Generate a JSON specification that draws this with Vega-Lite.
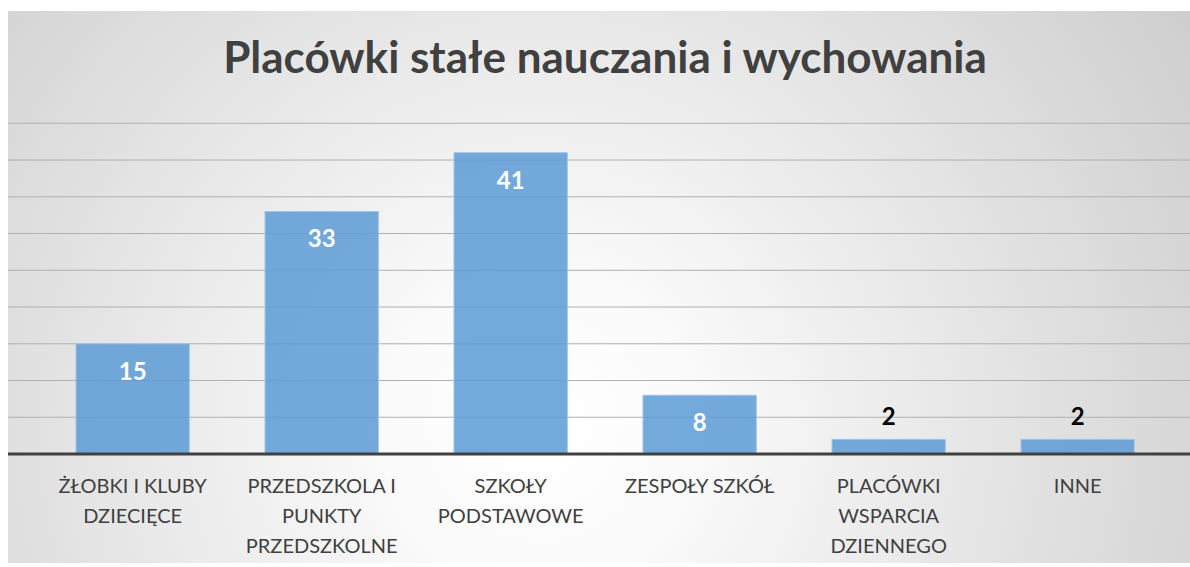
{
  "$schema": "https://vega.github.io/schema/vega-lite/v6.json",
  "width": 1182,
  "height": 552,
  "autosize": {"type": "none"},
  "padding": {"left": 8, "top": 11, "right": 0, "bottom": 4},
  "background": "#ffffff",
  "config": {
    "font": "Lato",
    "view": {"stroke": null, "fill": "#e6e6e6"}
  },
  "title": {
    "text": "Placówki stałe nauczania i wychowania",
    "font": "Lato",
    "fontSize": 44,
    "fontWeight": "bold",
    "color": "#404040",
    "anchor": "middle",
    "frame": "group",
    "baseline": "alphabetic",
    "offset": -106,
    "dx": 6
  },
  "data": {
    "values": [
      {"kategoria": "ŻŁOBKI I KLUBY DZIECIĘCE", "etykieta": "ŻŁOBKI I KLUBY\nDZIECIĘCE", "liczba": 15},
      {"kategoria": "PRZEDSZKOLA I PUNKTY PRZEDSZKOLNE", "etykieta": "PRZEDSZKOLA I\nPUNKTY\nPRZEDSZKOLNE", "liczba": 33},
      {"kategoria": "SZKOŁY PODSTAWOWE", "etykieta": "SZKOŁY\nPODSTAWOWE", "liczba": 41},
      {"kategoria": "ZESPOŁY SZKÓŁ", "etykieta": "ZESPOŁY SZKÓŁ", "liczba": 8},
      {"kategoria": "PLACÓWKI WSPARCIA DZIENNEGO", "etykieta": "PLACÓWKI\nWSPARCIA\nDZIENNEGO", "liczba": 2},
      {"kategoria": "INNE", "etykieta": "INNE", "liczba": 2}
    ]
  },
  "layer": [
    {
      "data": {"values": [{"tlo": 1}]},
      "mark": {
        "type": "rect",
        "fill": {
          "gradient": "radial",
          "x1": 0.45, "y1": 0.62, "r1": 0,
          "x2": 0.45, "y2": 0.62, "r2": 0.8,
          "stops": [
            {"offset": 0, "color": "#ffffff"},
            {"offset": 0.15, "color": "#fbfbfb"},
            {"offset": 1, "color": "#c2c2c2"}
          ]
        }
      },
      "encoding": {}
    },
    {
      "data": {"values": [
        {"poziom": 5}, {"poziom": 10}, {"poziom": 15}, {"poziom": 20}, {"poziom": 25},
        {"poziom": 30}, {"poziom": 35}, {"poziom": 40}, {"poziom": 45}
      ]},
      "mark": {"type": "rule", "stroke": "#b0b0b0", "strokeWidth": 1},
      "encoding": {
        "y": {"field": "poziom", "type": "quantitative", "axis": null}
      }
    },
    {
      "mark": {"type": "bar", "fill": "#5b9bd5", "fillOpacity": 0.85, "stroke": "#a4c6e8", "strokeWidth": 1},
      "encoding": {
        "x": {
          "field": "kategoria",
          "type": "nominal",
          "sort": null,
          "scale": {"paddingInner": 0.4, "paddingOuter": 0.327, "align": 0.55, "round": false},
          "axis": null
        },
        "y": {
          "field": "liczba",
          "type": "quantitative",
          "scale": {"domain": [-14.83, 60.28], "nice": false, "zero": false},
          "axis": null
        }
      }
    },
    {
      "data": {"values": [{"poziom": 0}]},
      "mark": {"type": "rule", "stroke": "#404040", "strokeWidth": 3},
      "encoding": {
        "y": {"field": "poziom", "type": "quantitative", "axis": null}
      }
    },
    {
      "transform": [{"filter": "datum.liczba >= 5"}],
      "mark": {"type": "text", "fontWeight": "bold", "fontSize": 24, "fill": "#ffffff", "baseline": "middle", "dy": 29},
      "encoding": {
        "x": {"field": "kategoria", "type": "nominal", "sort": null, "axis": null},
        "y": {"field": "liczba", "type": "quantitative", "axis": null},
        "text": {"field": "liczba", "type": "quantitative"}
      }
    },
    {
      "transform": [{"filter": "datum.liczba < 5"}],
      "mark": {"type": "text", "fontWeight": "bold", "fontSize": 24, "fill": "#000000", "baseline": "middle", "dy": -21},
      "encoding": {
        "x": {"field": "kategoria", "type": "nominal", "sort": null, "axis": null},
        "y": {"field": "liczba", "type": "quantitative", "axis": null},
        "text": {"field": "liczba", "type": "quantitative"}
      }
    },
    {
      "mark": {"type": "text", "fontSize": 20, "fill": "#404040", "baseline": "top", "align": "center", "lineBreak": "\n", "lineHeight": 30},
      "encoding": {
        "x": {"field": "kategoria", "type": "nominal", "sort": null, "axis": null},
        "y": {"datum": -3.1, "type": "quantitative", "axis": null},
        "text": {"field": "etykieta", "type": "nominal"}
      }
    }
  ]
}
